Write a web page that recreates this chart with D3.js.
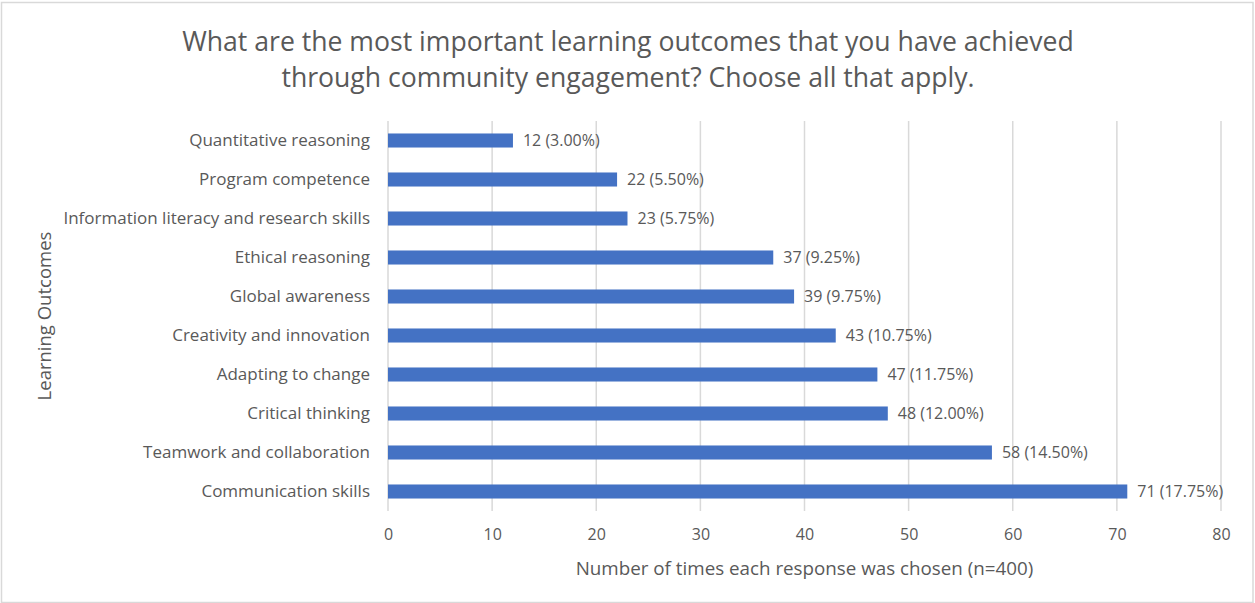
<!DOCTYPE html>
<html>
<head>
<meta charset="utf-8">
<script src="https://cdn.jsdelivr.net/npm/d3@7"></script>
<style>
  body { margin: 0; background: #fff; }
  svg text { font-family: "Open Sans", "Liberation Sans", sans-serif; fill: #595959; }
</style>
</head>
<body>
<div id="graph-section"></div>
<script>
// categories top to bottom, as shown
var outcomes = ["Quantitative reasoning", "Program competence", "Information literacy and research skills",
  "Ethical reasoning", "Global awareness", "Creativity and innovation", "Adapting to change",
  "Critical thinking", "Teamwork and collaboration", "Communication skills"]
var counts = [12, 22, 23, 37, 39, 43, 47, 48, 58, 71]
var percents = ["3.00%", "5.50%", "5.75%", "9.25%", "9.75%", "10.75%", "11.75%", "12.00%", "14.50%", "17.75%"]
var xTicks = [0, 10, 20, 30, 40, 50, 60, 70, 80]
var titleLines = ["What are the most important learning outcomes that you have achieved",
  "through community engagement? Choose all that apply."]
var xTitle = "Number of times each response was chosen (n=400)"
var yTitle = "Learning Outcomes"

var fullWidth = 1255, fullHeight = 603
var margin = {top: 121, right: 34, bottom: 92, left: 388}
var width = fullWidth - margin.left - margin.right
var height = fullHeight - margin.top - margin.bottom

var root = d3.select('div#graph-section').append('svg')
    .attr('width', fullWidth)
    .attr('height', fullHeight)

// chart border
root.append('rect')
    .attr('x', 1.5).attr('y', 2.5)
    .attr('width', 1251.5).attr('height', 600)
    .attr('fill', 'none')
    .attr('stroke', '#d9d9d9')
    .attr('stroke-width', 1.5)

// title
root.append('text')
    .attr('x', 628)
    .attr('text-anchor', 'middle')
    .style('font-size', '26.6px')
    .selectAll('tspan')
    .data(titleLines)
  .enter().append('tspan')
    .attr('x', 628)
    .attr('y', function(d, i) { return 51 + i * 36 })
    .text(function(d) { return d })

var svg = root.append('g')
    .attr('transform', 'translate(' + margin.left + ',' + margin.top + ')')

var xScale = d3.scaleLinear()
    .domain([0, 80])
    .range([0, width])

var yScale = d3.scaleBand()
    .domain(outcomes)
    .range([0, height])
    .paddingInner(0.64)
    .paddingOuter(0.32)

// gridlines
svg.append('g')
    .selectAll('line')
    .data(xTicks)
  .enter().append('line')
    .attr('x1', function(d) { return xScale(d) })
    .attr('x2', function(d) { return xScale(d) })
    .attr('y1', 0)
    .attr('y2', height)
    .attr('stroke', '#d9d9d9')
    .attr('stroke-width', 1.5)

// x axis (labels only)
var xAxis = d3.axisBottom(xScale).tickValues(xTicks).tickSize(0).tickPadding(18)
var xAxisEle = svg.append('g')
    .attr('transform', 'translate(0,' + height + ')')
    .call(xAxis)
xAxisEle.select('.domain').remove()
xAxisEle.selectAll('text').style('font-size', '16px').style('font-family', null)

// y axis (labels only)
var yAxis = d3.axisLeft(yScale).tickSize(0).tickPadding(18)
var yAxisEle = svg.append('g').call(yAxis)
yAxisEle.select('.domain').remove()
yAxisEle.selectAll('text').style('font-size', '17px').style('font-family', null)

// bars
svg.append('g').selectAll('rect.bar')
    .data(counts)
  .enter().append('rect')
    .attr('x', 0)
    .attr('y', function(d, i) { return yScale(outcomes[i]) })
    .attr('width', function(d) { return xScale(d) })
    .attr('height', yScale.bandwidth())
    .attr('fill', '#4472c4')

// value labels
svg.append('g').selectAll('text')
    .data(counts)
  .enter().append('text')
    .attr('x', function(d) { return xScale(d) + 10 })
    .attr('y', function(d, i) { return yScale(outcomes[i]) + yScale.bandwidth() / 2 })
    .attr('dy', '0.35em')
    .style('font-size', '16px')
    .text(function(d, i) { return d + ' (' + percents[i] + ')' })

// axis titles
svg.append('text')
    .attr('x', width / 2)
    .attr('y', height + 64)
    .attr('text-anchor', 'middle')
    .style('font-size', '18.8px')
    .text(xTitle)

svg.append('text')
    .attr('transform', 'translate(' + (51 - margin.left) + ',' + (height / 2) + ')rotate(-90)')
    .attr('text-anchor', 'middle')
    .style('font-size', '18.5px')
    .text(yTitle)
</script>
</body>
</html>
